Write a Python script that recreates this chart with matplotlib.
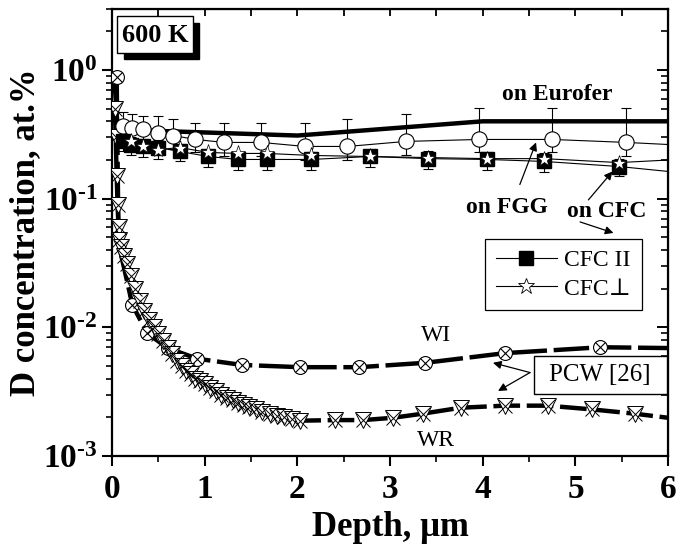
import matplotlib
matplotlib.use('agg')
import matplotlib.pyplot as plt
import matplotlib.patches as mpatches
from matplotlib.lines import Line2D
from matplotlib.ticker import MultipleLocator, LogLocator, FuncFormatter, NullFormatter
import numpy as np

plt.rcParams['font.family'] = ['Liberation Serif', 'DejaVu Serif']
plt.rcParams['font.weight'] = 'bold'
plt.rcParams['axes.labelweight'] = 'bold'
plt.rcParams['mathtext.fontset'] = 'custom'
plt.rcParams['mathtext.rm'] = 'Liberation Serif:bold'
plt.rcParams['mathtext.it'] = 'Liberation Serif:bold:italic'
plt.rcParams['mathtext.bf'] = 'Liberation Serif:bold'

# thick solid line, "on Eurofer"
eurofer_x = [0.03, 0.06, 0.3, 0.7, 2.0, 4.0, 6.0]
eurofer_y = [0.75, 0.36, 0.34, 0.333, 0.31, 0.40, 0.40]

# open circles, FGG (line continues to 6 um without a marker)
fgg_x = [0.12, 0.22, 0.33, 0.50, 0.66, 0.90, 1.21, 1.61, 2.08, 2.54, 3.17, 3.96, 4.75, 5.55]
fgg_y = [0.365, 0.352, 0.346, 0.322, 0.31, 0.289, 0.274, 0.274, 0.255, 0.255, 0.279, 0.289, 0.289, 0.274]
fgg_hi = [0.47, 0.453, 0.437, 0.437, 0.42, 0.39, 0.385, 0.385, 0.385, 0.414, 0.453, 0.505, 0.505, 0.505]
fgg_lo = [0.29, 0.28, 0.27, 0.255, 0.245, 0.23, 0.215, 0.215, 0.20, 0.20, 0.22, 0.23, 0.23, 0.215]
fgg_end = 0.264

# filled squares, CFC parallel
cfcp_x = [0.12, 0.21, 0.33, 0.50, 0.73, 1.04, 1.36, 1.67, 2.15, 2.78, 3.41, 4.05, 4.66, 5.47]
cfcp_y = [0.279, 0.264, 0.255, 0.250, 0.233, 0.213, 0.202, 0.202, 0.202, 0.213, 0.205, 0.202, 0.195, 0.178]
cfcp_hi = [0.31, 0.30, 0.29, 0.285, 0.265, 0.24, 0.23, 0.23, 0.23, 0.24, 0.235, 0.23, 0.225, 0.205]
cfcp_lo = [0.235, 0.22, 0.21, 0.205, 0.195, 0.178, 0.168, 0.168, 0.168, 0.178, 0.17, 0.168, 0.162, 0.15]
cfcp_end = 0.163

# open stars, CFC perpendicular
cfcn_x = [0.21, 0.33, 0.50, 0.73, 1.04, 1.36, 1.67, 2.15, 2.78, 3.41, 4.05, 4.66, 5.47]
cfcn_y = [0.279, 0.255, 0.241, 0.25, 0.229, 0.225, 0.225, 0.217, 0.213, 0.209, 0.205, 0.205, 0.191]
cfcn_end = 0.20

# PCW [26] WI, thick dashed with crossed circles
wi_x = [0.05, 0.07, 0.22, 0.38, 0.60, 0.92, 1.40, 2.03, 2.67, 3.38, 4.24, 5.27, 6.0]
wi_y = [0.88, 0.045, 0.0149, 0.009, 0.0069, 0.0057, 0.0051, 0.0049, 0.0049, 0.0053, 0.0063, 0.0070, 0.0069]
wi_marks = [0, 2, 3, 4, 5, 6, 7, 8, 9, 10, 11]

# PCW [26] WR, thick dashed with crossed triangles
wr_x = [0.03, 0.04, 0.05, 0.06, 0.07, 0.08, 0.10, 0.13, 0.16, 0.20, 0.25, 0.30, 0.35,
        0.40, 0.45, 0.50, 0.55, 0.60, 0.65, 0.70, 0.75, 0.80, 0.85, 0.90, 0.95, 1.00,
        1.06, 1.12, 1.18, 1.24, 1.30, 1.36, 1.42, 1.48, 1.55, 1.62, 1.70, 1.78, 1.86,
        1.94, 2.03, 2.41, 2.71, 3.03, 3.35, 3.76, 4.24, 4.70, 5.18, 5.64, 6.0]
wr_y = [0.5, 0.3, 0.15, 0.09, 0.06, 0.048, 0.042, 0.036, 0.031, 0.025, 0.020, 0.016, 0.0135,
        0.0115, 0.010, 0.0088, 0.0078, 0.0069, 0.0062, 0.0055, 0.0050, 0.0046, 0.0043, 0.0040,
        0.0038, 0.0036, 0.0034, 0.0032, 0.0030, 0.0028, 0.0027, 0.0026, 0.0025, 0.0024,
        0.0023, 0.0022, 0.0021, 0.00205, 0.0020, 0.00195, 0.00188, 0.0019, 0.0019, 0.00198,
        0.00213, 0.00237, 0.00246, 0.00246, 0.0023, 0.00213, 0.00198]

fig = plt.figure(figsize=(6.79, 5.48), dpi=100)
ax = fig.add_axes([0.165, 0.168, 0.819, 0.816])
ax.set_yscale('log')

ax.plot(eurofer_x, eurofer_y, color='k', lw=3.2, zorder=3)

ax.plot(wi_x, wi_y, color='k', lw=3.2, dashes=(8, 1.5), zorder=3)
ax.plot(wi_x, wi_y, ls='none', marker='o', ms=10, mfc='white', mec='k', mew=0.8,
        markevery=wi_marks, zorder=4)
ax.plot(wi_x, wi_y, ls='none', marker='x', ms=7, mec='k', mew=0.8,
        markevery=wi_marks, zorder=4)

ax.plot(wr_x, wr_y, color='k', lw=3.2, dashes=(6, 1.5), zorder=3)
ax.plot(wr_x, wr_y, ls='none', marker='v', ms=11, mfc='white', mec='k', mew=0.7,
        markevery=slice(0, -1), zorder=4)
ax.plot(wr_x, wr_y, ls='none', marker='x', ms=10, mec='k', mew=0.7,
        markevery=slice(0, -1), zorder=4)

# thin connecting lines
ax.plot(fgg_x + [6.0], fgg_y + [fgg_end], color='k', lw=0.8, zorder=5)
ax.plot(cfcp_x + [6.0], cfcp_y + [cfcp_end], color='k', lw=0.8, zorder=5)
ax.plot(cfcn_x + [6.0], cfcn_y + [cfcn_end], color='k', lw=0.8, zorder=5)

fy = np.array(fgg_y)
ax.errorbar(fgg_x, fgg_y, yerr=[fy - np.array(fgg_lo), np.array(fgg_hi) - fy],
            fmt='o', ms=11, mfc='white', mec='k', mew=0.8, ecolor='k',
            elinewidth=0.8, capsize=3.6, capthick=0.8, zorder=6)
cy = np.array(cfcp_y)
ax.errorbar(cfcp_x, cfcp_y, yerr=[cy - np.array(cfcp_lo), np.array(cfcp_hi) - cy],
            fmt='s', ms=10, mfc='k', mec='k', ecolor='k',
            elinewidth=0.8, capsize=3.6, capthick=0.8, zorder=7)
ax.plot(cfcn_x, cfcn_y, ls='none', marker='*', ms=11, mfc='white', mec='k',
        mew=0.5, zorder=8)

ax.set_xlim(0, 6)
ax.set_ylim(1e-3, 3)


def decade(v, pos):
    e = int(round(np.log10(v)))
    return r'$10^{%s}$' % (str(e).replace('-', '\u2010'))


# axes styling
for s in ax.spines.values():
    s.set_linewidth(1.6)
ax.xaxis.set_major_locator(MultipleLocator(1))
ax.xaxis.set_minor_locator(MultipleLocator(0.5))
ax.yaxis.set_major_locator(LogLocator(base=10))
ax.yaxis.set_minor_locator(LogLocator(base=10, subs=np.arange(2, 10)))
ax.yaxis.set_minor_formatter(NullFormatter())
ax.yaxis.set_major_formatter(FuncFormatter(decade))
ax.tick_params(which='major', direction='out', length=7, width=1.5, labelsize=24)
ax.tick_params(which='minor', direction='out', length=4, width=1.2)
ax.tick_params(axis='x', pad=6)

top = ax.secondary_xaxis('top')
top.xaxis.set_major_locator(MultipleLocator(0.5))
top.tick_params(direction='in', length=5, width=1.3, labeltop=False)
right = ax.secondary_yaxis('right')
right.yaxis.set_major_locator(LogLocator(base=10))
right.yaxis.set_minor_locator(LogLocator(base=10, subs=np.arange(2, 10)))
right.tick_params(which='major', direction='in', length=8, width=1.4, labelright=False)
right.tick_params(which='minor', direction='in', length=5, width=1.2, labelright=False)

ax.set_xlabel('Depth, \u03bcm', fontsize=25, labelpad=4)
ax.set_ylabel('D concentration, at.%', fontsize=25, labelpad=1)

# 600 K box with shadow
ax.add_patch(mpatches.Rectangle((0.022, 0.887), 0.135, 0.082, transform=ax.transAxes,
                                facecolor='k', edgecolor='k', zorder=9))
ax.add_patch(mpatches.Rectangle((0.009, 0.902), 0.137, 0.082, transform=ax.transAxes,
                                facecolor='white', edgecolor='k', lw=1, zorder=10))
ax.text(0.078, 0.940, '600 K', transform=ax.transAxes, fontsize=19, ha='center',
        va='center', zorder=11)

# series labels
ax.text(4.80, 0.65, 'on Eurofer', fontsize=17, ha='center', va='center')
ax.text(4.26, 0.086, 'on FGG', fontsize=17, ha='center', va='center')
ax.text(5.34, 0.079, 'on CFC', fontsize=17, ha='center', va='center')
ax.text(3.50, 0.0087, 'WI', fontsize=17, fontweight='normal', ha='center', va='center')
ax.text(3.49, 0.00131, 'WR', fontsize=17, fontweight='normal', ha='center', va='center')

arrow = dict(arrowstyle='-|>', color='k', lw=0.9, mutation_scale=12, shrinkA=0, shrinkB=0)
ax.annotate('', xy=(4.575, 0.274), xytext=(4.40, 0.129), arrowprops=arrow)
ax.annotate('', xy=(5.40, 0.163), xytext=(5.14, 0.098), arrowprops=arrow)
ax.annotate('', xy=(5.41, 0.0542), xytext=(5.05, 0.066), arrowprops=arrow)
ax.annotate('', xy=(4.11, 0.0053), xytext=(4.51, 0.00445), arrowprops=arrow)
ax.annotate('', xy=(4.165, 0.0032), xytext=(4.51, 0.00445), arrowprops=arrow)

# PCW [26] box
ax.add_patch(mpatches.Rectangle((0.759, 0.1387), 0.239, 0.085, transform=ax.transAxes,
                                facecolor='white', edgecolor='k', lw=1, zorder=9))
ax.text(0.878, 0.181, 'PCW [26]', transform=ax.transAxes, fontsize=18,
        fontweight='normal', ha='center', va='center', zorder=10)

handles = [Line2D([], [], color='k', lw=0.8, marker='s', ms=10, mfc='k'),
           Line2D([], [], color='k', lw=0.8, marker='*', ms=12, mfc='white', mew=0.6)]
leg = ax.legend(handles, ['CFC II', 'CFC\u22a5'], loc='upper left',
                bbox_to_anchor=(0.671, 0.4855), frameon=True, fancybox=False,
                edgecolor='k', framealpha=1, handlelength=2.6, borderpad=0.45,
                labelspacing=0.3, handletextpad=0.3, borderaxespad=0,
                prop={'size': 17, 'weight': 'normal'})
leg.get_frame().set_linewidth(0.9)
leg.set_zorder(12)

fig.savefig('out.png', dpi=100)
